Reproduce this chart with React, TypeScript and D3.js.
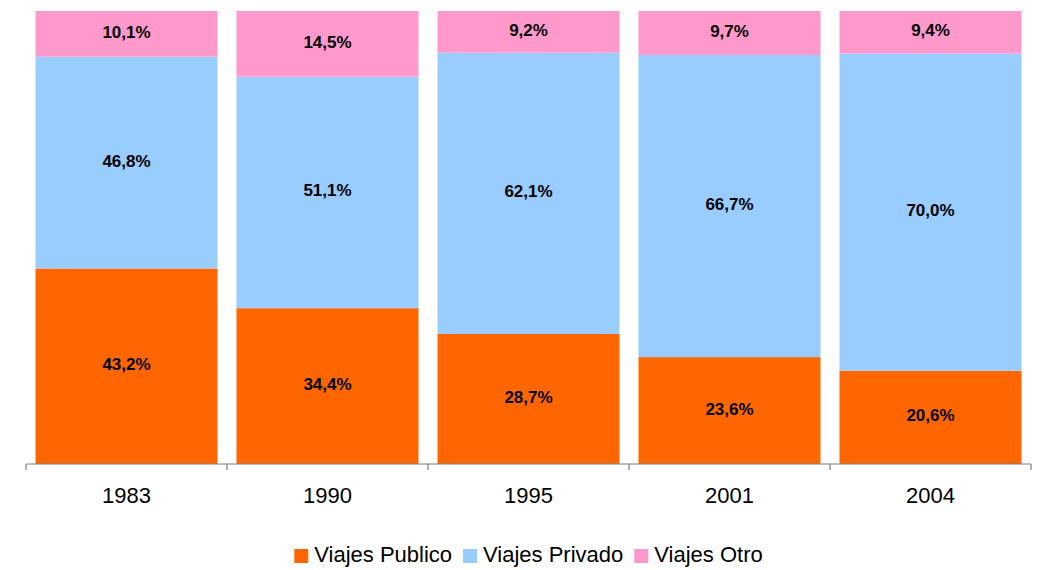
import React, { useMemo } from "react";
import * as d3 from "d3";

const years = ["1983", "1990", "1995", "2001", "2004"];
const publico = [43.2, 34.4, 28.7, 23.6, 20.6];
const privado = [46.8, 51.1, 62.1, 66.7, 70.0];
const otro = [10.1, 14.5, 9.2, 9.7, 9.4];
const seriesNames = ["Viajes Publico", "Viajes Privado", "Viajes Otro"];
const seriesColors = ["#FF6600", "#99CCFF", "#FF99CC"];

const W = 1040;
const H = 570;
const FONT = "'Liberation Sans', Arial, Helvetica, sans-serif";

const fmt = (v: number) => v.toFixed(1).replace(".", ",") + "%";

export default function App() {
  const seriesValues = [publico, privado, otro];
  const rows = years.map((y, i) => ({
    year: y,
    s0: publico[i],
    s1: privado[i],
    s2: otro[i],
  }));

  const x = d3
    .scaleBand<string>()
    .domain(years)
    .range([26, 1031])
    .paddingInner(0.0945)
    .paddingOuter(0.04725);
  const y = d3.scaleLinear().domain([0, 1]).range([464, 11]);

  const stack = d3
    .stack<any>()
    .keys(["s0", "s1", "s2"])
    .offset(d3.stackOffsetExpand);
  const stacked = stack(rows);

  const legend = useMemo(() => {
    const canvas = document.createElement("canvas");
    const ctx = canvas.getContext("2d")!;
    ctx.font = `22px ${FONT}`;
    const sw = 14;
    const gapSwatch = 6;
    const gapItem = 11;
    const widths = seriesNames.map((n) => ctx.measureText(n).width);
    const total =
      widths.reduce((a, b) => a + b, 0) +
      seriesNames.length * (sw + gapSwatch) +
      (seriesNames.length - 1) * gapItem;
    let cx = (26 + 1031) / 2 - total / 2;
    return seriesNames.map((n, i) => {
      const item = { name: n, x: cx, textX: cx + sw + gapSwatch };
      cx += sw + gapSwatch + widths[i] + gapItem;
      return item;
    });
  }, []);

  const step = x.step();
  const boundaries = years.map((yr) => (x(yr) as number) - (step - x.bandwidth()) / 2);
  boundaries.push(1031);

  return (
    <svg
      width={W}
      height={H}
      style={{ position: "absolute", left: 0, top: 0, background: "#fff" }}
      fontFamily={FONT}
    >
      {stacked.map((layer, si) => (
        <g key={si}>
          {layer.map((d, i) => {
            const x0 = x(years[i]) as number;
            const yTop = y(d[1]);
            const yBot = y(d[0]);
            return (
              <g key={i}>
                <rect
                  x={x0}
                  y={yTop}
                  width={x.bandwidth()}
                  height={yBot - yTop}
                  fill={seriesColors[si]}
                />
                <text
                  x={x0 + x.bandwidth() / 2}
                  y={(yTop + yBot) / 2 - 1.5}
                  textAnchor="middle"
                  dominantBaseline="central"
                  fontWeight="bold"
                  fontSize={17}
                  fill="#000"
                >
                  {fmt(seriesValues[si][i])}
                </text>
              </g>
            );
          })}
        </g>
      ))}
      <g stroke="#808080" strokeWidth={1.2} fill="none">
        <line x1={26} x2={1031} y1={464} y2={464} />
        {boundaries.map((b, i) => (
          <line key={i} x1={b} x2={b} y1={464} y2={470} />
        ))}
      </g>
      {years.map((yr) => (
        <text
          key={yr}
          x={(x(yr) as number) + x.bandwidth() / 2}
          y={503}
          textAnchor="middle"
          fontSize={22}
          fill="#000"
        >
          {yr}
        </text>
      ))}
      {legend.map((l, i) => (
        <g key={l.name}>
          <rect x={l.x} y={549} width={14} height={14} fill={seriesColors[i]} />
          <text x={l.textX} y={562} fontSize={22} fill="#000">
            {l.name}
          </text>
        </g>
      ))}
    </svg>
  );
}
